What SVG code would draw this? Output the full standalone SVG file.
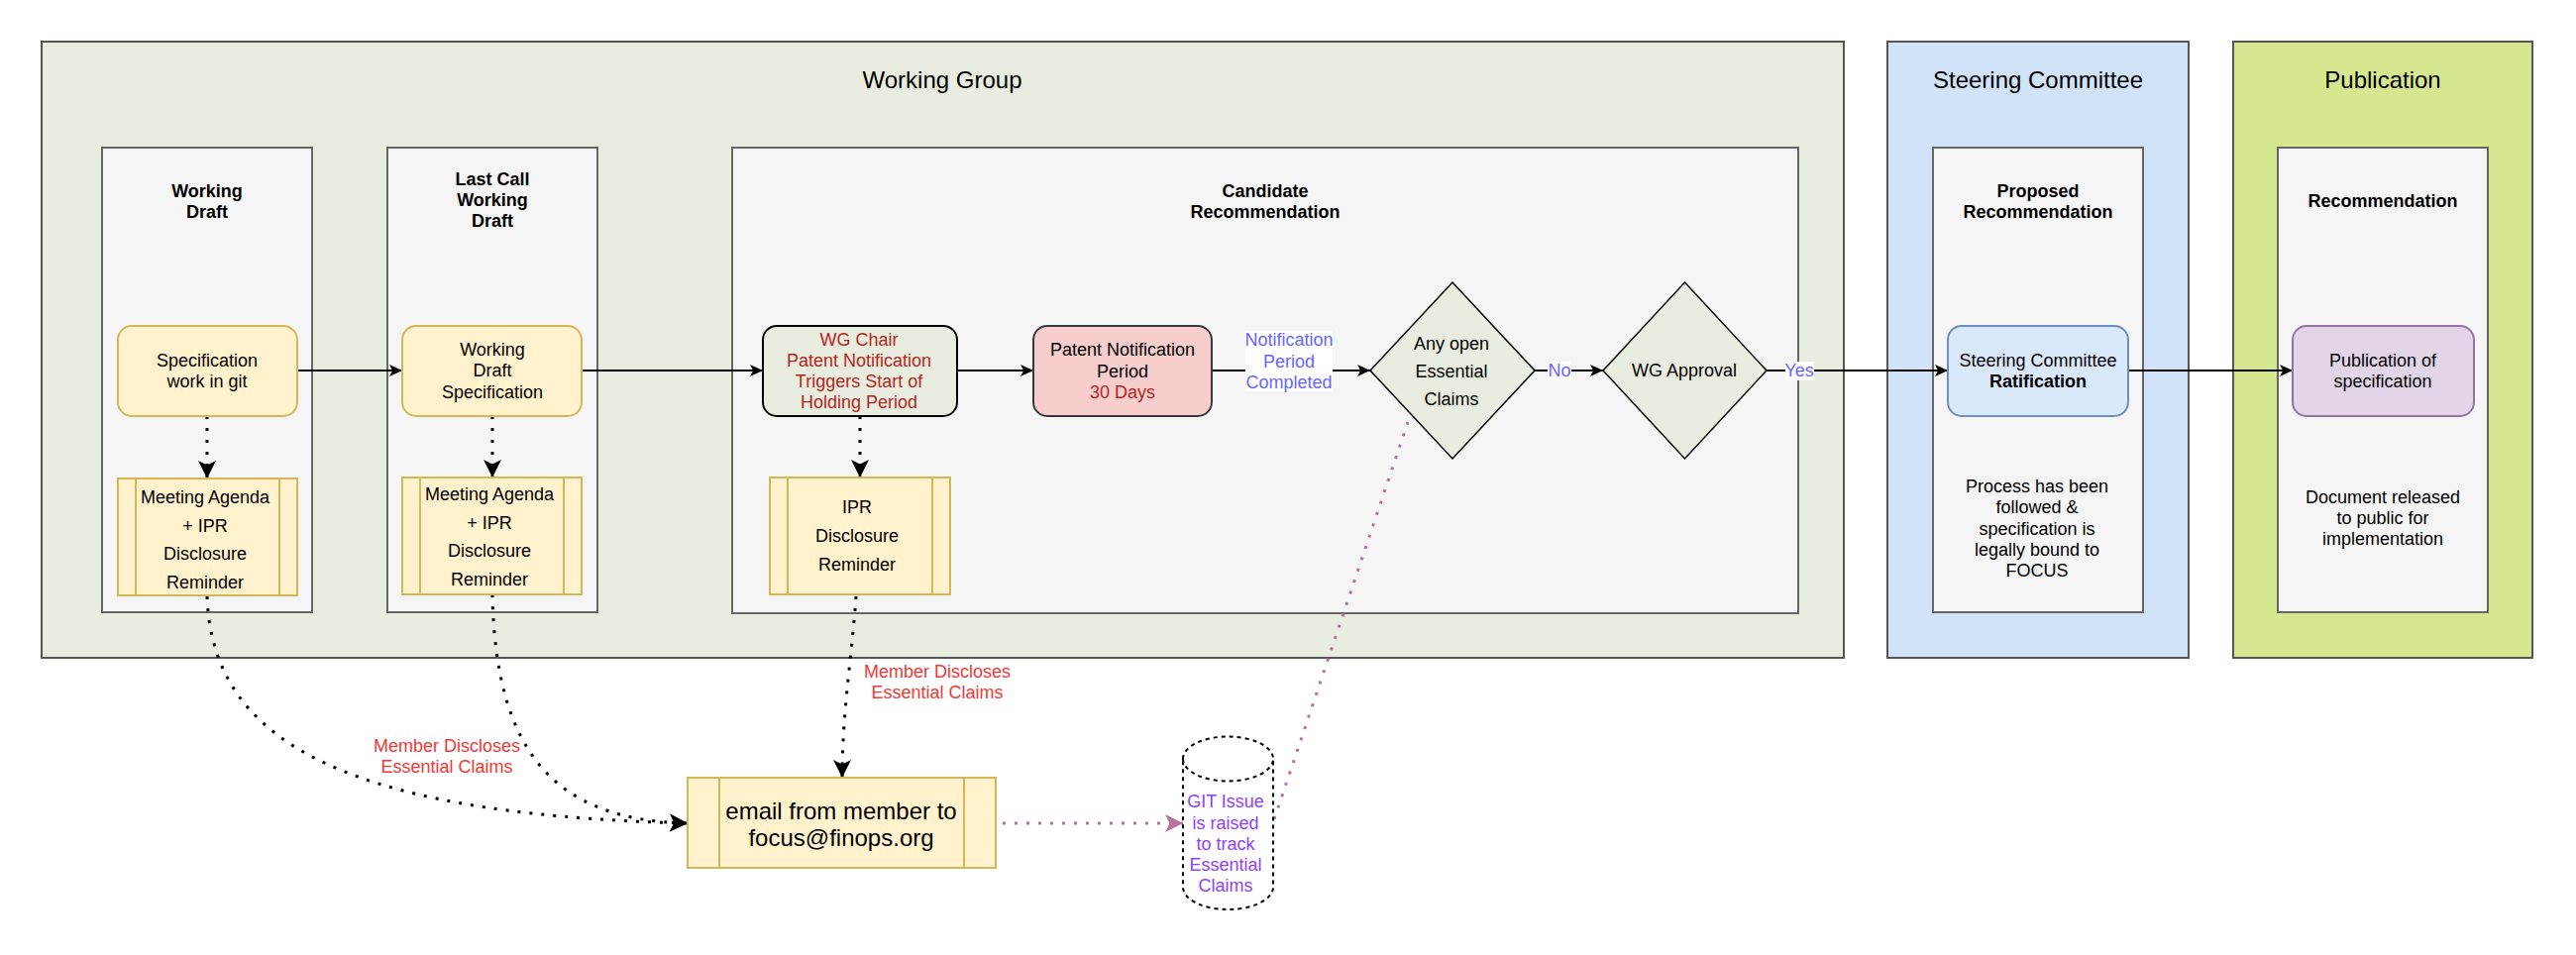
<svg xmlns="http://www.w3.org/2000/svg" width="2600" height="964" viewBox="0 0 2600 964">
<style>
text{font-family:"Liberation Sans",Arial,sans-serif;font-size:18px;fill:#000;text-anchor:middle;dominant-baseline:central}
.t24{font-size:24px}
.b{font-weight:bold}
.red{fill:#b3261e}
.lred{fill:#f03838}
.blue{fill:#6666ff}
.purp{fill:#9040ff}
.col{fill:#f5f5f5;stroke:#666666;stroke-width:2}
.yel{fill:#fff2cc;stroke:#d6b656;stroke-width:2}
.ln{fill:none;stroke:#000;stroke-width:2}
.dot{fill:none;stroke:#000;stroke-width:3;stroke-dasharray:3 9}
.pdot{fill:none;stroke:#b5739d;stroke-width:3;stroke-dasharray:3 9}
</style>
<defs>
<marker id="ar" markerUnits="userSpaceOnUse" markerWidth="14" markerHeight="12" refX="13" refY="6" orient="auto" overflow="visible">
<path d="M0,0 L13,6 L0,12 L3.25,6 Z" fill="#000"/>
</marker>
<marker id="ad" markerUnits="userSpaceOnUse" markerWidth="18" markerHeight="18" refX="18" refY="9" orient="auto" overflow="visible">
<path d="M0,0 L18,9 L0,18 L4.5,9 Z" fill="#000"/>
</marker>
<marker id="ap" markerUnits="userSpaceOnUse" markerWidth="18" markerHeight="18" refX="18" refY="9" orient="auto" overflow="visible">
<path d="M0,0 L18,9 L0,18 L4.5,9 Z" fill="#b5739d"/>
</marker>
</defs>
<rect width="2600" height="964" fill="#ffffff"/>

<g id="working-group">
<rect x="42" y="42" width="1819" height="622" fill="#e9eddf" stroke="#555555" stroke-width="2"/>
<text class="t24" x="951" y="80">Working Group</text>
</g>
<g id="steering-committee">
<rect x="1905" y="42" width="304" height="622" fill="#d0e3f9" stroke="#555555" stroke-width="2"/>
<text class="t24" x="2057" y="80">Steering Committee</text>
</g>
<g id="publication">
<rect x="2254" y="42" width="302" height="622" fill="#d5e88f" stroke="#555555" stroke-width="2"/>
<text class="t24" x="2405" y="80">Publication</text>
</g>

<g id="col-working-draft">
<rect class="col" x="103" y="149" width="212" height="469"/>
<text class="b" x="209" y="193">Working</text>
<text class="b" x="209" y="214">Draft</text>
</g>
<g id="col-last-call">
<rect class="col" x="391" y="149" width="212" height="469"/>
<text class="b" x="497" y="181">Last Call</text>
<text class="b" x="497" y="202">Working</text>
<text class="b" x="497" y="223">Draft</text>
</g>
<g id="col-candidate">
<rect class="col" x="739" y="149" width="1076" height="470"/>
<text class="b" x="1277" y="193">Candidate</text>
<text class="b" x="1277" y="214">Recommendation</text>
</g>
<g id="col-proposed">
<rect class="col" x="1951" y="149" width="212" height="469"/>
<text class="b" x="2057" y="193">Proposed</text>
<text class="b" x="2057" y="214">Recommendation</text>
<text x="2056" y="491">Process has been</text>
<text x="2056" y="512">followed &amp;</text>
<text x="2056" y="534">specification is</text>
<text x="2056" y="555">legally bound to</text>
<text x="2056" y="576">FOCUS</text>
</g>
<g id="col-recommendation">
<rect class="col" x="2299" y="149" width="212" height="469"/>
<text class="b" x="2405" y="203">Recommendation</text>
<text x="2405" y="502">Document released</text>
<text x="2405" y="523">to public for</text>
<text x="2405" y="544">implementation</text>
</g>

<g id="connectors">
<line class="ln" x1="300" y1="374" x2="406" y2="374" marker-end="url(#ar)"/>
<line class="ln" x1="587" y1="374" x2="770" y2="374" marker-end="url(#ar)"/>
<line class="ln" x1="966" y1="374" x2="1043" y2="374" marker-end="url(#ar)"/>
<line class="ln" x1="1223" y1="374" x2="1383" y2="374" marker-end="url(#ar)"/>
<line class="ln" x1="1549" y1="374" x2="1618" y2="374" marker-end="url(#ar)"/>
<line class="ln" x1="1783" y1="374" x2="1966" y2="374" marker-end="url(#ar)"/>
<line class="ln" x1="2148" y1="374" x2="2314" y2="374" marker-end="url(#ar)"/>
<line class="dot" x1="209" y1="420" x2="209" y2="483" marker-end="url(#ad)"/>
<line class="dot" x1="497" y1="420" x2="497" y2="482" marker-end="url(#ad)"/>
<line class="dot" x1="868" y1="420" x2="868" y2="482" marker-end="url(#ad)"/>
<path class="dot" d="M209,602 C214,740 330,822 694,831" marker-end="url(#ad)"/>
<path class="dot" d="M497,600 C500,760 560,828 694,831" marker-end="url(#ad)"/>
<path class="dot" d="M864,602 C860,660 850,720 850,785" marker-end="url(#ad)"/>
<line class="pdot" x1="1012" y1="831" x2="1194" y2="831" marker-end="url(#ap)"/>
<line class="pdot" x1="1421" y1="426" x2="1285" y2="830"/>
<rect x="1257" y="334" width="88" height="61" fill="#ffffff"/>
<text class="blue" x="1301" y="343">Notification</text>
<text class="blue" x="1301" y="364.5">Period</text>
<text class="blue" x="1301" y="386">Completed</text>
<rect x="1562" y="365" width="24" height="19" fill="#ffffff"/>
<text class="blue" x="1574" y="374">No</text>
<rect x="1802" y="365" width="29" height="19" fill="#ffffff"/>
<text class="blue" x="1816" y="374">Yes</text>
<text class="lred" x="451" y="753">Member Discloses</text>
<text class="lred" x="451" y="774">Essential Claims</text>
<text class="lred" x="946" y="678">Member Discloses</text>
<text class="lred" x="946" y="699">Essential Claims</text>
</g>

<g id="spec-work-in-git">
<rect class="yel" x="119" y="329" width="181" height="91" rx="14"/>
<text x="209" y="364">Specification</text>
<text x="209" y="385">work in git</text>
</g>
<g id="working-draft-spec">
<rect class="yel" x="406" y="329" width="181" height="91" rx="14"/>
<text x="497" y="353">Working</text>
<text x="497" y="374">Draft</text>
<text x="497" y="395.5">Specification</text>
</g>
<g id="meeting-agenda-1">
<rect class="yel" x="119" y="483" width="181" height="118"/>
<line class="yel" x1="137" y1="483" x2="137" y2="601"/>
<line class="yel" x1="282" y1="483" x2="282" y2="601"/>
<text x="207" y="502">Meeting Agenda</text>
<text x="207" y="531">+ IPR</text>
<text x="207" y="559">Disclosure</text>
<text x="207" y="587.5">Reminder</text>
</g>
<g id="meeting-agenda-2">
<rect class="yel" x="406" y="482" width="181" height="118"/>
<line class="yel" x1="424" y1="482" x2="424" y2="600"/>
<line class="yel" x1="569" y1="482" x2="569" y2="600"/>
<text x="494" y="499">Meeting Agenda</text>
<text x="494" y="528">+ IPR</text>
<text x="494" y="556">Disclosure</text>
<text x="494" y="585">Reminder</text>
</g>
<g id="wg-chair">
<rect x="770" y="329" width="196" height="91" rx="14" fill="#e9eddf" stroke="#000" stroke-width="2"/>
<text class="red" x="867" y="343">WG Chair</text>
<text class="red" x="867" y="364">Patent Notification</text>
<text class="red" x="867" y="385">Triggers Start of</text>
<text class="red" x="867" y="406">Holding Period</text>
</g>
<g id="ipr-reminder">
<rect class="yel" x="777" y="482" width="182" height="118"/>
<line class="yel" x1="795" y1="482" x2="795" y2="600"/>
<line class="yel" x1="941" y1="482" x2="941" y2="600"/>
<text x="865" y="512">IPR</text>
<text x="865" y="541">Disclosure</text>
<text x="865" y="570">Reminder</text>
</g>
<g id="patent-period">
<rect x="1043" y="329" width="180" height="91" rx="14" fill="#f8cecc" stroke="#36393d" stroke-width="2"/>
<text x="1133" y="353">Patent Notification</text>
<text x="1133" y="374.5">Period</text>
<text class="red" x="1133" y="396">30 Days</text>
</g>
<g id="open-claims">
<path d="M1466,285 L1549,374 L1466,463 L1383,374 Z" fill="#e9eddf" stroke="#000" stroke-width="1.5"/>
<text x="1465" y="347">Any open</text>
<text x="1465" y="375">Essential</text>
<text x="1465" y="403">Claims</text>
</g>
<g id="wg-approval">
<path d="M1700.5,285 L1783,374 L1700.5,463 L1618,374 Z" fill="#e9eddf" stroke="#000" stroke-width="1.5"/>
<text x="1700" y="374">WG Approval</text>
</g>
<g id="ratification">
<rect x="1966" y="329" width="182" height="91" rx="14" fill="#dae8fc" stroke="#6c8ebf" stroke-width="2"/>
<text x="2057" y="364">Steering Committee</text>
<text class="b" x="2057" y="385">Ratification</text>
</g>
<g id="publication-of-spec">
<rect x="2314" y="329" width="183" height="91" rx="14" fill="#e1d5e7" stroke="#9673a6" stroke-width="2"/>
<text x="2405" y="364">Publication of</text>
<text x="2405" y="385">specification</text>
</g>
<g id="email">
<rect class="yel" x="694" y="785" width="311" height="91"/>
<line class="yel" x1="726" y1="785" x2="726" y2="876"/>
<line class="yel" x1="973" y1="785" x2="973" y2="876"/>
<text class="t24" x="849" y="818">email from member to</text>
<text class="t24" x="849" y="845">focus@finops.org</text>
</g>
<g id="git-issue">
<path d="M1194,766 A45.5,22.5 0 0,1 1285,766 L1285,895.5 A45.5,22.5 0 0,1 1194,895.5 Z M1194,766 A45.5,22.5 0 0,0 1285,766" fill="none" stroke="#000" stroke-width="2" stroke-dasharray="4 4"/>
<text class="purp" x="1237" y="809">GIT Issue</text>
<text class="purp" x="1237" y="830.5">is raised</text>
<text class="purp" x="1237" y="852">to track</text>
<text class="purp" x="1237" y="873">Essential</text>
<text class="purp" x="1237" y="894">Claims</text>
</g>
</svg>
